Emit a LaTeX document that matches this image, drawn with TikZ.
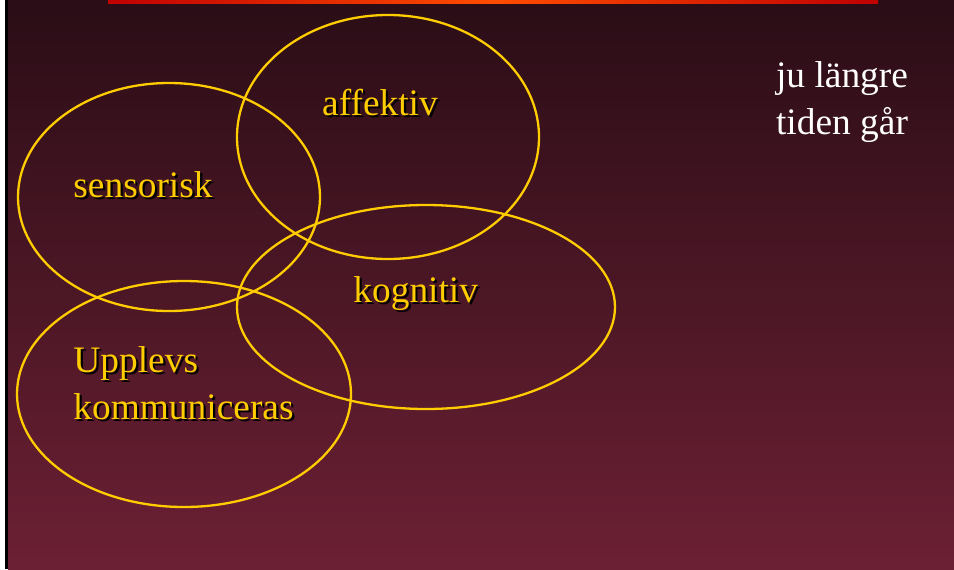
\documentclass[tikz,border=0pt]{standalone}
\usepackage{fontspec}
\setmainfont{Liberation Serif}
\usetikzlibrary{shapes.geometric}
\definecolor{bgtop}{RGB}{42,13,22}
\definecolor{bgmid}{RGB}{90,27,45}
\definecolor{bgbot}{RGB}{108,32,52}
\definecolor{gold}{RGB}{255,204,0}
\newcommand\shd[1]{\makebox[0pt][l]{\hspace{1.1pt}\raisebox{-1.1pt}{\color{black}#1}}#1}

\begin{document}
\begin{tikzpicture}[x=0.5pt, y=-0.5pt,
    ring/.style = {ellipse, draw=gold, line width=1.15pt, inner sep=0pt},
    lbl/.style = {text=gold, inner sep=0pt, align=left,
      font=\fontsize{18.7}{23.5}\selectfont},
  ]
\useasboundingbox (0,0) rectangle (954,569);
% background
\fill[white] (0,0) rectangle (954,569);
\shade[top color=bgtop, middle color=bgmid, bottom color=bgbot]
  (8,0) rectangle (954,569);
\fill[black] (5,0) rectangle (8,569);
\shade[left color=red!75!black, right color=red!75!black,
  middle color=orange!60!red] (108,0) rectangle (878,3);

% the four areas
\node[ring, minimum width=151pt, minimum height=114pt] (sens) at (169,197) {};
\node[ring, minimum width=151pt, minimum height=122pt] (aff) at (388,137) {};
\node[ring, minimum width=189pt, minimum height=102pt] (kog) at (426,307) {};
\node[ring, minimum width=167pt, minimum height=113pt] (upp) at (184,394) {};

\node[lbl, anchor=base west] (tsens) at (73,197) {\shd{sensorisk}};
\node[lbl, anchor=base] (taff) at (380,115) {\shd{affektiv}};
\node[lbl, anchor=base west] (tkog) at (353,302) {\shd{kognitiv}};
\node[lbl, anchor=north west] (tupp) at (73,346)
    {\shd{Upplevs}\\\shd{kommuniceras}};

\node[lbl, text=white, align=center, anchor=north] (tid) at (842,61)
    {ju längre\\tiden går};
\end{tikzpicture}
\end{document}
